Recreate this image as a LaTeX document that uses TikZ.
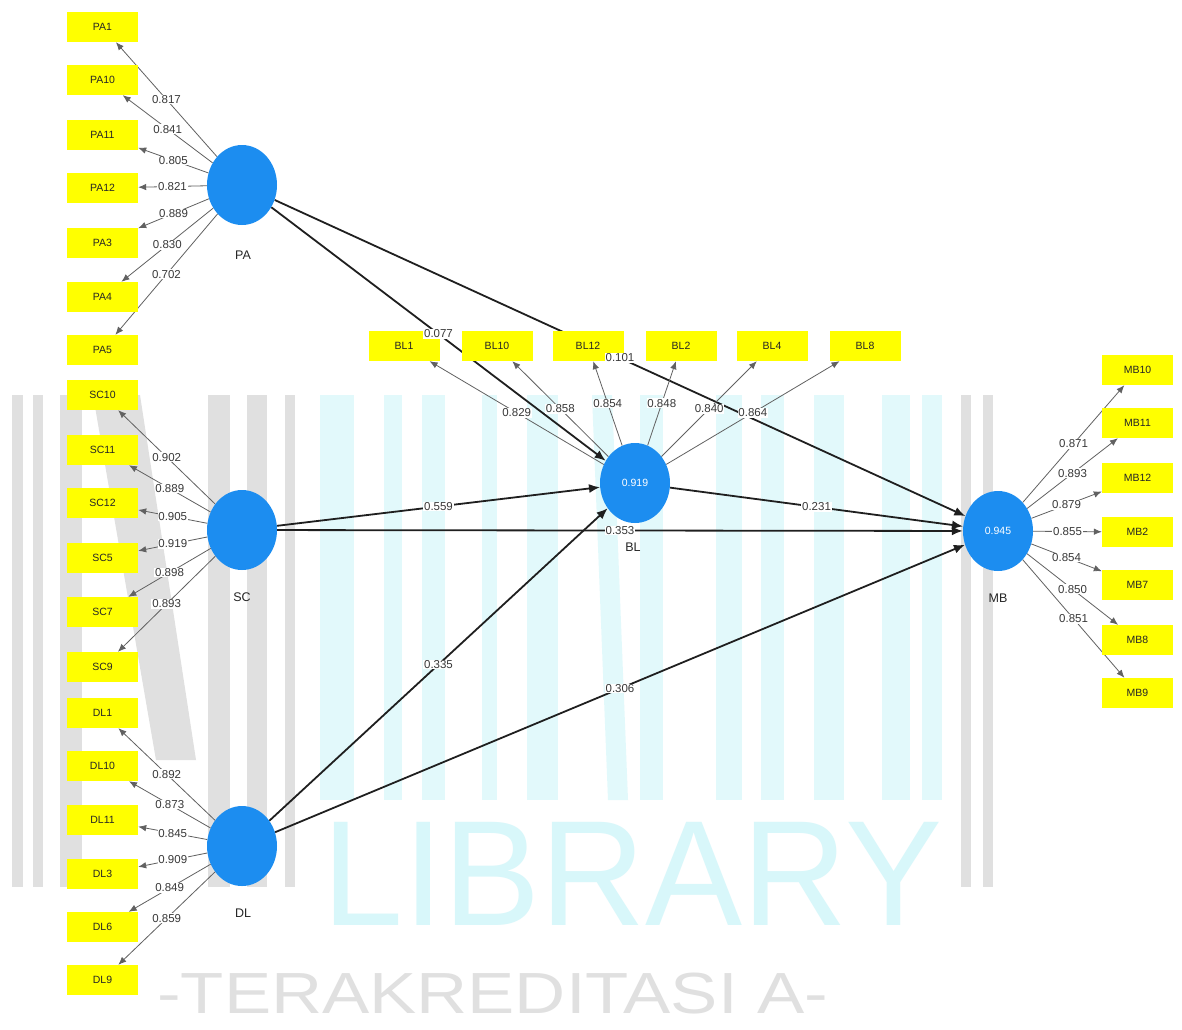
\documentclass[tikz,border=0pt]{standalone}
\usepackage{fontspec}
\setmainfont{Liberation Sans}
\usetikzlibrary{shapes.geometric,arrows.meta}
\definecolor{indY}{RGB}{255,255,0}
\definecolor{lvB}{RGB}{28,141,240}
\definecolor{wmGray}{RGB}{224,224,224}
\definecolor{wmCyan}{RGB}{216,247,250}
\definecolor{wmCyanL}{RGB}{226,249,251}
\pgfdeclarelayer{wm}
\pgfdeclarelayer{lines}
\pgfdeclarelayer{front}
\pgfsetlayers{wm,lines,main,front}
\tikzset{
  indbox/.style={fill=indY, minimum width=71pt, minimum height=30pt, inner sep=0pt,
    font=\fontsize{10.5}{12}\selectfont, text=black!85},
  lvnode/.style={ellipse, fill=lvB, minimum width=70pt, minimum height=80pt, inner sep=0pt,
    text=white, font=\fontsize{10.5}{12}\selectfont},
  lvname/.style={font=\fontsize{12.5}{14}\selectfont, text=black!85, inner sep=0pt},
  loadarrow/.style={draw=black!62, line width=0.8pt, -{Latex[length=8pt,width=6.5pt]}},
  patharrow/.style={draw=black!88, line width=1.8pt, -{Latex[length=11pt,width=9pt]}},
  lbl/.style={fill=white, inner sep=0.8pt, font=\fontsize{11.5}{12}\selectfont, text=black!78},
  wmbar/.style={fill=wmGray, draw=none},
  wmcyan/.style={fill=wmCyanL, draw=none}
}
\begin{document}
\begin{tikzpicture}[x=1pt,y=-1pt]
\useasboundingbox (0,0) rectangle (1182,1029);
\path[clip] (0,0) rectangle (1182,1029);

% ---------- watermark ----------
\begin{pgfonlayer}{wm}
\fill[white] (0,0) rectangle (1182,1029);
\foreach \a/\b in {12/23, 33/43, 60/82, 208/230, 247/267, 285/295, 961/971, 983/993}
  \fill[wmbar] (\a,395) rectangle (\b,887);
\fill[wmbar] (93,395) -- (140,395) -- (196,760) -- (156,760) -- cycle;
\foreach \a/\b in {320/354, 384/402, 422/445, 482/497, 527/558, 640/663, 716/742, 761/784, 814/844, 882/910, 922/942}
  \fill[wmcyan] (\a,395) rectangle (\b,800);
\fill[wmcyan] (592,395) -- (612,395) -- (628,800) -- (608,800) -- cycle;
\node[anchor=base west, inner sep=0pt, text=wmCyan, font=\fontsize{150}{152}\selectfont] (wmL) at (322,925) {\scalebox{0.97}[1]{LIBRARY}};
\node[anchor=base west, inner sep=0pt, text=wmGray, font=\fontsize{58}{60}\selectfont] (wmT) at (157,1013) {\scalebox{1.22}[1]{-TERAKREDITASI A-}};
\end{pgfonlayer}

% ---------- latent variables ----------
\node[lvnode] (PA) at (242,185) {};
\node[lvnode] (SC) at (242,530) {};
\node[lvnode] (DL) at (242,846) {};
\node[lvnode] (BL) at (635,483) {0.919};
\node[lvnode] (MB) at (998,531) {0.945};
\node[lvname] (PAn) at (243,255) {PA};
\node[lvname] (SCn) at (242,597) {SC};
\node[lvname] (DLn) at (243,913) {DL};
\node[lvname] (BLn) at (633,547) {BL};
\node[lvname] (MBn) at (998,598) {MB};

% ---------- indicators ----------
\foreach \n/\y in {PA1/27, PA10/80, PA11/135, PA12/188, PA3/243, PA4/297, PA5/350,
                   SC10/395, SC11/450, SC12/503, SC5/558, SC7/612, SC9/667,
                   DL1/713, DL10/766, DL11/820, DL3/874, DL6/927, DL9/980}
  \node[indbox] (\n) at (102.5,\y) {\n};
\foreach \n/\x in {BL1/404, BL10/497, BL12/588, BL2/681, BL4/772, BL8/865}
  \node[indbox] (\n) at (\x,346) {\n};
\foreach \n/\y in {MB10/370, MB11/423, MB12/478, MB2/532, MB7/585, MB8/640, MB9/693}
  \node[indbox] (\n) at (1137.5,\y) {\n};

% ---------- connectors (behind the nodes) ----------
\begin{pgfonlayer}{lines}
\foreach \s/\t in {PA/BL, PA/MB, SC/BL, SC/MB, DL/BL, DL/MB, BL/MB}
  \draw[patharrow] (\s) -- (\t);
\foreach \n in {PA1, PA10, PA11, PA12, PA3, PA4, PA5}
  \draw[loadarrow] (PA) -- (\n);
\foreach \n in {SC10, SC11, SC12, SC5, SC7, SC9}
  \draw[loadarrow] (SC) -- (\n);
\foreach \n in {DL1, DL10, DL11, DL3, DL6, DL9}
  \draw[loadarrow] (DL) -- (\n);
\foreach \n in {BL1, BL10, BL12, BL2, BL4, BL8}
  \draw[loadarrow] (BL) -- (\n);
\foreach \n in {MB10, MB11, MB12, MB2, MB7, MB8, MB9}
  \draw[loadarrow] (MB) -- (\n);
\end{pgfonlayer}

% ---------- coefficient labels (in front) ----------
\begin{pgfonlayer}{front}
\path (PA) -- node[lbl] {0.077} (BL);
\path (PA) -- node[lbl] {0.101} (MB);
\path (SC) -- node[lbl] {0.559} (BL);
\path (SC) -- node[lbl] {0.353} (MB);
\path (DL) -- node[lbl] {0.335} (BL);
\path (DL) -- node[lbl] {0.306} (MB);
\path (BL) -- node[lbl] {0.231} (MB);
\foreach \n/\v in {PA1/0.817, PA10/0.841, PA11/0.805, PA12/0.821, PA3/0.889, PA4/0.830, PA5/0.702}
  \path (PA) -- node[lbl] {\v} (\n);
\foreach \n/\v in {SC10/0.902, SC11/0.889, SC12/0.905, SC5/0.919, SC7/0.898, SC9/0.893}
  \path (SC) -- node[lbl] {\v} (\n);
\foreach \n/\v in {DL1/0.892, DL10/0.873, DL11/0.845, DL3/0.909, DL6/0.849, DL9/0.859}
  \path (DL) -- node[lbl] {\v} (\n);
\foreach \n/\v in {BL1/0.829, BL10/0.858, BL12/0.854, BL2/0.848, BL4/0.840, BL8/0.864}
  \path (BL) -- node[lbl] {\v} (\n);
\foreach \n/\v in {MB10/0.871, MB11/0.893, MB12/0.879, MB2/0.855, MB7/0.854, MB8/0.850, MB9/0.851}
  \path (MB) -- node[lbl] {\v} (\n);
\end{pgfonlayer}
\end{tikzpicture}
\end{document}
